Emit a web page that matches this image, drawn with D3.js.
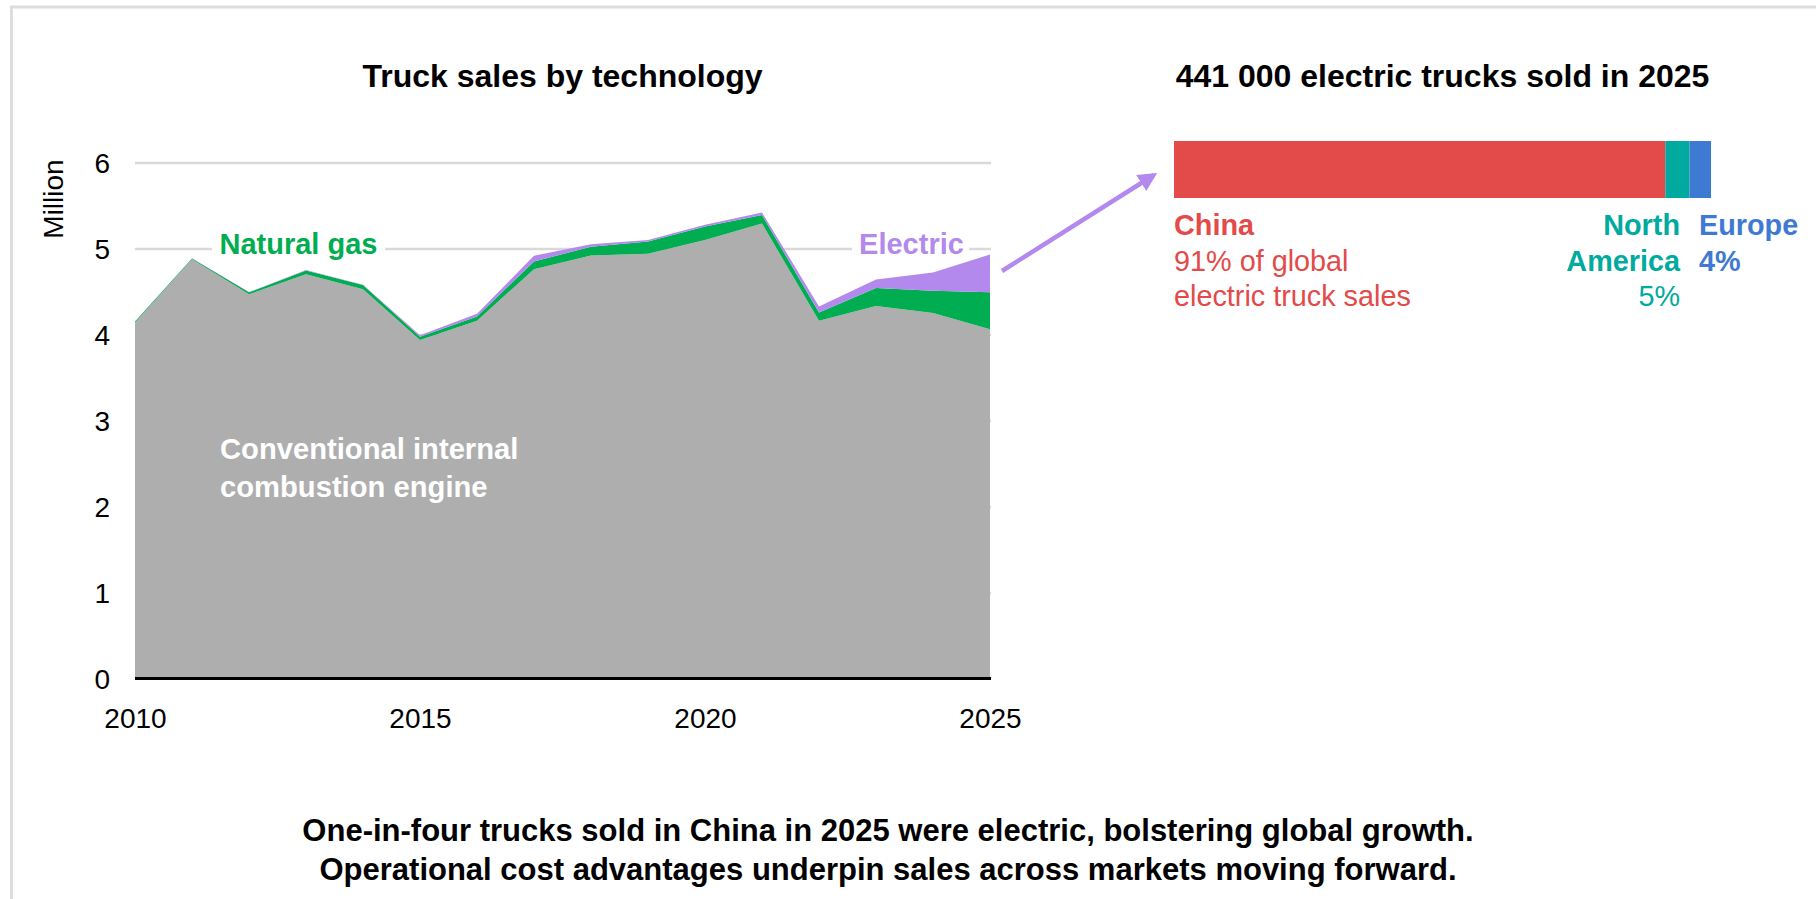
<!DOCTYPE html>
<html>
<head>
<meta charset="utf-8">
<script src="https://cdn.jsdelivr.net/npm/d3@7"></script>
<style>
  html, body { margin: 0; padding: 0; background: #fff; }
  svg { display: block; font-family: "Liberation Sans", Arial, sans-serif; }
</style>
</head>
<body>
<svg id="chart" width="1816" height="899"></svg>
<script>
// ---- Data ----
const years = [2010, 2011, 2012, 2013, 2014, 2015, 2016, 2017, 2018, 2019, 2020, 2021, 2022, 2023, 2024, 2025];
const iceSales = [4.14, 4.875, 4.467, 4.70, 4.525, 3.935, 4.16, 4.76, 4.92, 4.94, 5.10, 5.29, 4.16, 4.33, 4.25, 4.06];
const gasSales = [0.01, 0.01, 0.023, 0.045, 0.05, 0.04, 0.05, 0.09, 0.10, 0.14, 0.155, 0.10, 0.095, 0.21, 0.26, 0.43];
const evSales  = [0.0, 0.002, 0.003, 0.004, 0.004, 0.015, 0.03, 0.065, 0.03, 0.02, 0.02, 0.03, 0.07, 0.10, 0.21, 0.44];
const yTicks = [0, 1, 2, 3, 4, 5, 6];
const xTicks = [2010, 2015, 2020, 2025];

const regions = ["China", "North America", "Europe"];
const regionShares = [91.5, 4.5, 4.0];

const leftTitle = "Truck sales by technology";
const rightTitle = "441 000 electric trucks sold in 2025";
const footer = ["One-in-four trucks sold in China in 2025 were electric, bolstering global growth.",
                "Operational cost advantages underpin sales across markets moving forward."];

// ---- Styles ----
const C = {
  ice: "#AEAEAE", gas: "#00AD50", ev: "#B389EE",
  china: "#E34A4A", na: "#00AA9E", eu: "#3E79D2",
  grid: "#D9D9D9", frame: "#DDDDDD"
};

const svg = d3.select("#chart");

// frame
svg.append("line").attr("x1", 10).attr("x2", 1816).attr("y1", 7).attr("y2", 7)
  .attr("stroke", C.frame).attr("stroke-width", 3);
svg.append("line").attr("x1", 11.5).attr("x2", 11.5).attr("y1", 6).attr("y2", 899)
  .attr("stroke", C.frame).attr("stroke-width", 3);

// ---- Left chart ----
const x = d3.scaleLinear().domain([2010, 2025]).range([135, 990]);
const y = d3.scaleLinear().domain([0, 6]).range([678.5, 162.5]);

const table = years.map((yr, i) => ({ year: yr, ice: iceSales[i], gas: gasSales[i], ev: evSales[i] }));
const stack = d3.stack().keys(["ice", "gas", "ev"]);
const series = stack(table);
const colorOf = { ice: C.ice, gas: C.gas, ev: C.ev };

// gridlines
const gridAxis = d3.axisLeft(y).tickValues(yTicks.filter(t => t > 0)).tickSize(-(x(2025) - x(2010) + 1)).tickFormat("");
const g = svg.append("g").attr("transform", `translate(${x(2010)},0)`).call(gridAxis);
g.select(".domain").remove();
g.selectAll(".tick line").attr("stroke", C.grid).attr("stroke-width", 2.5);

// label backgrounds (white boxes interrupting gridlines)
svg.append("rect").attr("x", 212).attr("y", 230).attr("width", 173).attr("height", 34).attr("fill", "#fff");
svg.append("rect").attr("x", 852).attr("y", 230).attr("width", 117).attr("height", 34).attr("fill", "#fff");

const area = d3.area()
  .x(d => x(d.data.year))
  .y0(d => y(d[0]))
  .y1(d => y(d[1]));

svg.append("g").selectAll("path").data(series).join("path")
  .attr("d", area)
  .attr("fill", d => colorOf[d.key]);

// zero baseline
svg.append("line").attr("x1", x(2010)).attr("x2", x(2025) + 1).attr("y1", y(0)).attr("y2", y(0))
  .attr("stroke", "#000").attr("stroke-width", 3);

// y tick labels
const yAxis = d3.axisLeft(y).tickValues(yTicks).tickSize(0).tickPadding(0).tickFormat(d3.format("d"));
const ya = svg.append("g").attr("transform", "translate(110,0)").call(yAxis);
ya.select(".domain").remove();
ya.selectAll("text").attr("font-size", 28).attr("fill", "#000")
  .attr("font-family", "'Liberation Sans', Arial, sans-serif").attr("dy", "0.35em");

// x tick labels
const xAxis = d3.axisBottom(x).tickValues(xTicks).tickSize(0).tickPadding(0).tickFormat(d3.format("d"));
const xa = svg.append("g").attr("transform", "translate(0,708)").call(xAxis);
xa.select(".domain").remove();
xa.selectAll("text").attr("font-size", 28).attr("fill", "#000")
  .attr("font-family", "'Liberation Sans', Arial, sans-serif").attr("dy", "0.71em");

// y axis title
svg.append("text").attr("transform", "translate(63,199) rotate(-90)")
  .attr("text-anchor", "middle").attr("font-size", 28).attr("fill", "#000").text("Million");

// title
svg.append("text").attr("x", (x(2010) + x(2025)) / 2).attr("y", 87)
  .attr("text-anchor", "middle").attr("font-size", 32).attr("font-weight", "bold").text(leftTitle);

// series labels
svg.append("text").attr("x", 298.5).attr("y", 254).attr("text-anchor", "middle")
  .attr("font-size", 29).attr("font-weight", "bold").attr("fill", C.gas).text("Natural gas");
svg.append("text").attr("x", 911.5).attr("y", 254).attr("text-anchor", "middle")
  .attr("font-size", 29).attr("font-weight", "bold").attr("fill", C.ev).text("Electric");
svg.append("text").attr("x", 220).attr("y", 458.5)
  .attr("font-size", 29.2).attr("font-weight", "bold").attr("fill", "#fff")
  .selectAll("tspan").data(["Conventional internal", "combustion engine"]).join("tspan")
  .attr("x", 220).attr("dy", (d, i) => i === 0 ? 0 : 38).text(d => d);

// ---- Arrow ----
const defs = svg.append("defs");
defs.append("marker").attr("id", "arrowhead").attr("viewBox", "0 0 10 10")
  .attr("refX", 8).attr("refY", 5).attr("markerWidth", 4.2).attr("markerHeight", 4.2)
  .attr("markerUnits", "strokeWidth").attr("orient", "auto")
  .append("path").attr("d", "M0,0 L10,5 L0,10 z").attr("fill", C.ev);
svg.append("line").attr("x1", 1002).attr("y1", 271).attr("x2", 1154).attr("y2", 175)
  .attr("stroke", C.ev).attr("stroke-width", 4.5).attr("marker-end", "url(#arrowhead)");

// ---- Right bar ----
const total = d3.sum(regionShares);
const xb = d3.scaleLinear().domain([0, total]).range([1174, 1711]);
let cum = 0;
const segs = regions.map((r, i) => { const s = { name: r, x0: cum, x1: cum + regionShares[i] }; cum += regionShares[i]; return s; });
const regionColors = [C.china, C.na, C.eu];
svg.append("g").selectAll("rect").data(segs).join("rect")
  .attr("x", d => xb(d.x0)).attr("width", d => xb(d.x1) - xb(d.x0))
  .attr("y", 141).attr("height", 57)
  .attr("fill", (d, i) => regionColors[i]);

svg.append("text").attr("x", (xb(0) + xb(total)) / 2).attr("y", 87)
  .attr("text-anchor", "middle").attr("font-size", 32).attr("font-weight", "bold").text(rightTitle);

function lines(xpos, anchor, color, rows) {
  rows.forEach((r, i) => {
    svg.append("text").attr("x", xpos).attr("y", 235 + i * 35.5)
      .attr("text-anchor", anchor).attr("font-size", 28.8)
      .attr("font-weight", r.b ? "bold" : "normal").attr("fill", color).text(r.t);
  });
}
lines(xb(0), "start", C.china, [{ t: "China", b: true }, { t: "91% of global" }, { t: "electric truck sales" }]);
lines(1680, "end", C.na, [{ t: "North", b: true }, { t: "America", b: true }, { t: "5%" }]);
lines(1699, "start", C.eu, [{ t: "Europe", b: true }, { t: "4%", b: true }]);

// ---- Footer ----
svg.append("g").selectAll("text").data(footer).join("text")
  .attr("x", 888).attr("y", (d, i) => 841 + i * 38.5)
  .attr("text-anchor", "middle").attr("font-size", 31).attr("font-weight", "bold").text(d => d);
</script>
</body>
</html>
